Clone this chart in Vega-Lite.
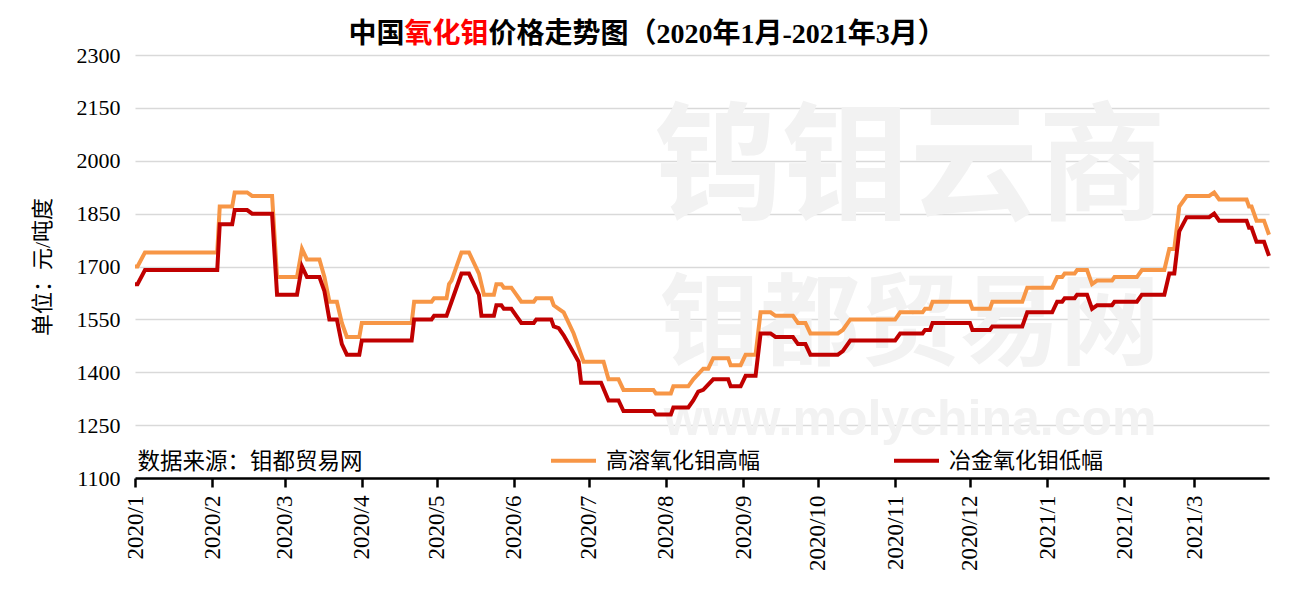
{
  "$schema": "https://vega.github.io/schema/vega-lite/v6.json",
  "width": 1134,
  "height": 423,
  "autosize": {"type": "none"},
  "padding": {"left": 135, "top": 55, "right": 36, "bottom": 118},
  "background": "white",
  "config": {"view": {"stroke": null}, "font": "Liberation Serif, Noto Sans CJK SC"},
  "datasets": {
    "prices": [
      {"date": "2020/01/01", "series": "高溶氧化钼高幅", "price": 1700},
      {"date": "2020/01/02", "series": "高溶氧化钼高幅", "price": 1700},
      {"date": "2020/01/05", "series": "高溶氧化钼高幅", "price": 1740},
      {"date": "2020/02/03", "series": "高溶氧化钼高幅", "price": 1740},
      {"date": "2020/02/04", "series": "高溶氧化钼高幅", "price": 1870},
      {"date": "2020/02/09", "series": "高溶氧化钼高幅", "price": 1870},
      {"date": "2020/02/10", "series": "高溶氧化钼高幅", "price": 1910},
      {"date": "2020/02/15", "series": "高溶氧化钼高幅", "price": 1910},
      {"date": "2020/02/17", "series": "高溶氧化钼高幅", "price": 1900},
      {"date": "2020/02/25", "series": "高溶氧化钼高幅", "price": 1900},
      {"date": "2020/02/27", "series": "高溶氧化钼高幅", "price": 1670},
      {"date": "2020/03/06", "series": "高溶氧化钼高幅", "price": 1670},
      {"date": "2020/03/08", "series": "高溶氧化钼高幅", "price": 1750},
      {"date": "2020/03/10", "series": "高溶氧化钼高幅", "price": 1720},
      {"date": "2020/03/15", "series": "高溶氧化钼高幅", "price": 1720},
      {"date": "2020/03/17", "series": "高溶氧化钼高幅", "price": 1670},
      {"date": "2020/03/19", "series": "高溶氧化钼高幅", "price": 1600},
      {"date": "2020/03/22", "series": "高溶氧化钼高幅", "price": 1600},
      {"date": "2020/03/24", "series": "高溶氧化钼高幅", "price": 1540},
      {"date": "2020/03/26", "series": "高溶氧化钼高幅", "price": 1500},
      {"date": "2020/03/31", "series": "高溶氧化钼高幅", "price": 1500},
      {"date": "2020/04/01", "series": "高溶氧化钼高幅", "price": 1540},
      {"date": "2020/04/21", "series": "高溶氧化钼高幅", "price": 1540},
      {"date": "2020/04/22", "series": "高溶氧化钼高幅", "price": 1600},
      {"date": "2020/04/29", "series": "高溶氧化钼高幅", "price": 1600},
      {"date": "2020/04/30", "series": "高溶氧化钼高幅", "price": 1610},
      {"date": "2020/05/05", "series": "高溶氧化钼高幅", "price": 1610},
      {"date": "2020/05/06", "series": "高溶氧化钼高幅", "price": 1650},
      {"date": "2020/05/07", "series": "高溶氧化钼高幅", "price": 1660},
      {"date": "2020/05/11", "series": "高溶氧化钼高幅", "price": 1740},
      {"date": "2020/05/14", "series": "高溶氧化钼高幅", "price": 1740},
      {"date": "2020/05/18", "series": "高溶氧化钼高幅", "price": 1680},
      {"date": "2020/05/20", "series": "高溶氧化钼高幅", "price": 1620},
      {"date": "2020/05/24", "series": "高溶氧化钼高幅", "price": 1620},
      {"date": "2020/05/25", "series": "高溶氧化钼高幅", "price": 1650},
      {"date": "2020/05/27", "series": "高溶氧化钼高幅", "price": 1650},
      {"date": "2020/05/28", "series": "高溶氧化钼高幅", "price": 1640},
      {"date": "2020/05/31", "series": "高溶氧化钼高幅", "price": 1640},
      {"date": "2020/06/02", "series": "高溶氧化钼高幅", "price": 1620},
      {"date": "2020/06/04", "series": "高溶氧化钼高幅", "price": 1600},
      {"date": "2020/06/09", "series": "高溶氧化钼高幅", "price": 1600},
      {"date": "2020/06/10", "series": "高溶氧化钼高幅", "price": 1610},
      {"date": "2020/06/16", "series": "高溶氧化钼高幅", "price": 1610},
      {"date": "2020/06/17", "series": "高溶氧化钼高幅", "price": 1590},
      {"date": "2020/06/19", "series": "高溶氧化钼高幅", "price": 1580},
      {"date": "2020/06/21", "series": "高溶氧化钼高幅", "price": 1570},
      {"date": "2020/06/23", "series": "高溶氧化钼高幅", "price": 1540},
      {"date": "2020/06/25", "series": "高溶氧化钼高幅", "price": 1510},
      {"date": "2020/06/27", "series": "高溶氧化钼高幅", "price": 1470},
      {"date": "2020/06/29", "series": "高溶氧化钼高幅", "price": 1430},
      {"date": "2020/07/07", "series": "高溶氧化钼高幅", "price": 1430},
      {"date": "2020/07/09", "series": "高溶氧化钼高幅", "price": 1380},
      {"date": "2020/07/13", "series": "高溶氧化钼高幅", "price": 1380},
      {"date": "2020/07/15", "series": "高溶氧化钼高幅", "price": 1350},
      {"date": "2020/07/27", "series": "高溶氧化钼高幅", "price": 1350},
      {"date": "2020/07/28", "series": "高溶氧化钼高幅", "price": 1340},
      {"date": "2020/08/03", "series": "高溶氧化钼高幅", "price": 1340},
      {"date": "2020/08/04", "series": "高溶氧化钼高幅", "price": 1360},
      {"date": "2020/08/10", "series": "高溶氧化钼高幅", "price": 1360},
      {"date": "2020/08/12", "series": "高溶氧化钼高幅", "price": 1380},
      {"date": "2020/08/16", "series": "高溶氧化钼高幅", "price": 1410},
      {"date": "2020/08/18", "series": "高溶氧化钼高幅", "price": 1410},
      {"date": "2020/08/20", "series": "高溶氧化钼高幅", "price": 1440},
      {"date": "2020/08/26", "series": "高溶氧化钼高幅", "price": 1440},
      {"date": "2020/08/27", "series": "高溶氧化钼高幅", "price": 1420},
      {"date": "2020/08/31", "series": "高溶氧化钼高幅", "price": 1420},
      {"date": "2020/09/02", "series": "高溶氧化钼高幅", "price": 1450},
      {"date": "2020/09/06", "series": "高溶氧化钼高幅", "price": 1450},
      {"date": "2020/09/08", "series": "高溶氧化钼高幅", "price": 1570},
      {"date": "2020/09/12", "series": "高溶氧化钼高幅", "price": 1570},
      {"date": "2020/09/14", "series": "高溶氧化钼高幅", "price": 1560},
      {"date": "2020/09/21", "series": "高溶氧化钼高幅", "price": 1560},
      {"date": "2020/09/23", "series": "高溶氧化钼高幅", "price": 1540},
      {"date": "2020/09/26", "series": "高溶氧化钼高幅", "price": 1540},
      {"date": "2020/09/28", "series": "高溶氧化钼高幅", "price": 1510},
      {"date": "2020/10/09", "series": "高溶氧化钼高幅", "price": 1510},
      {"date": "2020/10/11", "series": "高溶氧化钼高幅", "price": 1520},
      {"date": "2020/10/14", "series": "高溶氧化钼高幅", "price": 1550},
      {"date": "2020/11/01", "series": "高溶氧化钼高幅", "price": 1550},
      {"date": "2020/11/03", "series": "高溶氧化钼高幅", "price": 1570},
      {"date": "2020/11/12", "series": "高溶氧化钼高幅", "price": 1570},
      {"date": "2020/11/13", "series": "高溶氧化钼高幅", "price": 1580},
      {"date": "2020/11/15", "series": "高溶氧化钼高幅", "price": 1580},
      {"date": "2020/11/16", "series": "高溶氧化钼高幅", "price": 1600},
      {"date": "2020/12/01", "series": "高溶氧化钼高幅", "price": 1600},
      {"date": "2020/12/02", "series": "高溶氧化钼高幅", "price": 1580},
      {"date": "2020/12/09", "series": "高溶氧化钼高幅", "price": 1580},
      {"date": "2020/12/10", "series": "高溶氧化钼高幅", "price": 1600},
      {"date": "2020/12/22", "series": "高溶氧化钼高幅", "price": 1600},
      {"date": "2020/12/24", "series": "高溶氧化钼高幅", "price": 1640},
      {"date": "2021/01/03", "series": "高溶氧化钼高幅", "price": 1640},
      {"date": "2021/01/05", "series": "高溶氧化钼高幅", "price": 1670},
      {"date": "2021/01/07", "series": "高溶氧化钼高幅", "price": 1670},
      {"date": "2021/01/08", "series": "高溶氧化钼高幅", "price": 1680},
      {"date": "2021/01/12", "series": "高溶氧化钼高幅", "price": 1680},
      {"date": "2021/01/13", "series": "高溶氧化钼高幅", "price": 1690},
      {"date": "2021/01/17", "series": "高溶氧化钼高幅", "price": 1690},
      {"date": "2021/01/19", "series": "高溶氧化钼高幅", "price": 1650},
      {"date": "2021/01/21", "series": "高溶氧化钼高幅", "price": 1660},
      {"date": "2021/01/27", "series": "高溶氧化钼高幅", "price": 1660},
      {"date": "2021/01/28", "series": "高溶氧化钼高幅", "price": 1670},
      {"date": "2021/02/06", "series": "高溶氧化钼高幅", "price": 1670},
      {"date": "2021/02/08", "series": "高溶氧化钼高幅", "price": 1690},
      {"date": "2021/02/17", "series": "高溶氧化钼高幅", "price": 1690},
      {"date": "2021/02/19", "series": "高溶氧化钼高幅", "price": 1750},
      {"date": "2021/02/21", "series": "高溶氧化钼高幅", "price": 1750},
      {"date": "2021/02/23", "series": "高溶氧化钼高幅", "price": 1870},
      {"date": "2021/02/26", "series": "高溶氧化钼高幅", "price": 1900},
      {"date": "2021/03/07", "series": "高溶氧化钼高幅", "price": 1900},
      {"date": "2021/03/09", "series": "高溶氧化钼高幅", "price": 1910},
      {"date": "2021/03/11", "series": "高溶氧化钼高幅", "price": 1890},
      {"date": "2021/03/22", "series": "高溶氧化钼高幅", "price": 1890},
      {"date": "2021/03/23", "series": "高溶氧化钼高幅", "price": 1870},
      {"date": "2021/03/24", "series": "高溶氧化钼高幅", "price": 1870},
      {"date": "2021/03/26", "series": "高溶氧化钼高幅", "price": 1830},
      {"date": "2021/03/29", "series": "高溶氧化钼高幅", "price": 1830},
      {"date": "2021/03/31", "series": "高溶氧化钼高幅", "price": 1790},

      {"date": "2020/01/01", "series": "冶金氧化钼低幅", "price": 1650},
      {"date": "2020/01/02", "series": "冶金氧化钼低幅", "price": 1650},
      {"date": "2020/01/05", "series": "冶金氧化钼低幅", "price": 1690},
      {"date": "2020/02/03", "series": "冶金氧化钼低幅", "price": 1690},
      {"date": "2020/02/04", "series": "冶金氧化钼低幅", "price": 1820},
      {"date": "2020/02/09", "series": "冶金氧化钼低幅", "price": 1820},
      {"date": "2020/02/10", "series": "冶金氧化钼低幅", "price": 1860},
      {"date": "2020/02/15", "series": "冶金氧化钼低幅", "price": 1860},
      {"date": "2020/02/17", "series": "冶金氧化钼低幅", "price": 1850},
      {"date": "2020/02/25", "series": "冶金氧化钼低幅", "price": 1850},
      {"date": "2020/02/27", "series": "冶金氧化钼低幅", "price": 1620},
      {"date": "2020/03/06", "series": "冶金氧化钼低幅", "price": 1620},
      {"date": "2020/03/08", "series": "冶金氧化钼低幅", "price": 1700},
      {"date": "2020/03/10", "series": "冶金氧化钼低幅", "price": 1670},
      {"date": "2020/03/15", "series": "冶金氧化钼低幅", "price": 1670},
      {"date": "2020/03/17", "series": "冶金氧化钼低幅", "price": 1630},
      {"date": "2020/03/19", "series": "冶金氧化钼低幅", "price": 1550},
      {"date": "2020/03/22", "series": "冶金氧化钼低幅", "price": 1550},
      {"date": "2020/03/24", "series": "冶金氧化钼低幅", "price": 1480},
      {"date": "2020/03/26", "series": "冶金氧化钼低幅", "price": 1450},
      {"date": "2020/03/31", "series": "冶金氧化钼低幅", "price": 1450},
      {"date": "2020/04/01", "series": "冶金氧化钼低幅", "price": 1490},
      {"date": "2020/04/21", "series": "冶金氧化钼低幅", "price": 1490},
      {"date": "2020/04/22", "series": "冶金氧化钼低幅", "price": 1550},
      {"date": "2020/04/29", "series": "冶金氧化钼低幅", "price": 1550},
      {"date": "2020/04/30", "series": "冶金氧化钼低幅", "price": 1560},
      {"date": "2020/05/05", "series": "冶金氧化钼低幅", "price": 1560},
      {"date": "2020/05/07", "series": "冶金氧化钼低幅", "price": 1600},
      {"date": "2020/05/11", "series": "冶金氧化钼低幅", "price": 1680},
      {"date": "2020/05/14", "series": "冶金氧化钼低幅", "price": 1680},
      {"date": "2020/05/18", "series": "冶金氧化钼低幅", "price": 1620},
      {"date": "2020/05/19", "series": "冶金氧化钼低幅", "price": 1560},
      {"date": "2020/05/24", "series": "冶金氧化钼低幅", "price": 1560},
      {"date": "2020/05/25", "series": "冶金氧化钼低幅", "price": 1590},
      {"date": "2020/05/27", "series": "冶金氧化钼低幅", "price": 1590},
      {"date": "2020/05/28", "series": "冶金氧化钼低幅", "price": 1580},
      {"date": "2020/05/31", "series": "冶金氧化钼低幅", "price": 1580},
      {"date": "2020/06/02", "series": "冶金氧化钼低幅", "price": 1560},
      {"date": "2020/06/04", "series": "冶金氧化钼低幅", "price": 1540},
      {"date": "2020/06/09", "series": "冶金氧化钼低幅", "price": 1540},
      {"date": "2020/06/10", "series": "冶金氧化钼低幅", "price": 1550},
      {"date": "2020/06/16", "series": "冶金氧化钼低幅", "price": 1550},
      {"date": "2020/06/17", "series": "冶金氧化钼低幅", "price": 1530},
      {"date": "2020/06/19", "series": "冶金氧化钼低幅", "price": 1525},
      {"date": "2020/06/21", "series": "冶金氧化钼低幅", "price": 1505},
      {"date": "2020/06/23", "series": "冶金氧化钼低幅", "price": 1480},
      {"date": "2020/06/25", "series": "冶金氧化钼低幅", "price": 1455},
      {"date": "2020/06/27", "series": "冶金氧化钼低幅", "price": 1430},
      {"date": "2020/06/28", "series": "冶金氧化钼低幅", "price": 1370},
      {"date": "2020/07/06", "series": "冶金氧化钼低幅", "price": 1370},
      {"date": "2020/07/09", "series": "冶金氧化钼低幅", "price": 1320},
      {"date": "2020/07/13", "series": "冶金氧化钼低幅", "price": 1320},
      {"date": "2020/07/15", "series": "冶金氧化钼低幅", "price": 1290},
      {"date": "2020/07/27", "series": "冶金氧化钼低幅", "price": 1290},
      {"date": "2020/07/28", "series": "冶金氧化钼低幅", "price": 1280},
      {"date": "2020/08/03", "series": "冶金氧化钼低幅", "price": 1280},
      {"date": "2020/08/04", "series": "冶金氧化钼低幅", "price": 1300},
      {"date": "2020/08/10", "series": "冶金氧化钼低幅", "price": 1300},
      {"date": "2020/08/12", "series": "冶金氧化钼低幅", "price": 1320},
      {"date": "2020/08/14", "series": "冶金氧化钼低幅", "price": 1345},
      {"date": "2020/08/16", "series": "冶金氧化钼低幅", "price": 1350},
      {"date": "2020/08/20", "series": "冶金氧化钼低幅", "price": 1380},
      {"date": "2020/08/26", "series": "冶金氧化钼低幅", "price": 1380},
      {"date": "2020/08/27", "series": "冶金氧化钼低幅", "price": 1360},
      {"date": "2020/08/31", "series": "冶金氧化钼低幅", "price": 1360},
      {"date": "2020/09/02", "series": "冶金氧化钼低幅", "price": 1390},
      {"date": "2020/09/06", "series": "冶金氧化钼低幅", "price": 1390},
      {"date": "2020/09/08", "series": "冶金氧化钼低幅", "price": 1510},
      {"date": "2020/09/12", "series": "冶金氧化钼低幅", "price": 1510},
      {"date": "2020/09/14", "series": "冶金氧化钼低幅", "price": 1500},
      {"date": "2020/09/21", "series": "冶金氧化钼低幅", "price": 1500},
      {"date": "2020/09/23", "series": "冶金氧化钼低幅", "price": 1480},
      {"date": "2020/09/26", "series": "冶金氧化钼低幅", "price": 1480},
      {"date": "2020/09/28", "series": "冶金氧化钼低幅", "price": 1450},
      {"date": "2020/10/09", "series": "冶金氧化钼低幅", "price": 1450},
      {"date": "2020/10/11", "series": "冶金氧化钼低幅", "price": 1460},
      {"date": "2020/10/14", "series": "冶金氧化钼低幅", "price": 1490},
      {"date": "2020/11/01", "series": "冶金氧化钼低幅", "price": 1490},
      {"date": "2020/11/03", "series": "冶金氧化钼低幅", "price": 1510},
      {"date": "2020/11/12", "series": "冶金氧化钼低幅", "price": 1510},
      {"date": "2020/11/13", "series": "冶金氧化钼低幅", "price": 1520},
      {"date": "2020/11/15", "series": "冶金氧化钼低幅", "price": 1520},
      {"date": "2020/11/16", "series": "冶金氧化钼低幅", "price": 1540},
      {"date": "2020/12/01", "series": "冶金氧化钼低幅", "price": 1540},
      {"date": "2020/12/02", "series": "冶金氧化钼低幅", "price": 1520},
      {"date": "2020/12/09", "series": "冶金氧化钼低幅", "price": 1520},
      {"date": "2020/12/10", "series": "冶金氧化钼低幅", "price": 1530},
      {"date": "2020/12/22", "series": "冶金氧化钼低幅", "price": 1530},
      {"date": "2020/12/24", "series": "冶金氧化钼低幅", "price": 1570},
      {"date": "2021/01/03", "series": "冶金氧化钼低幅", "price": 1570},
      {"date": "2021/01/05", "series": "冶金氧化钼低幅", "price": 1600},
      {"date": "2021/01/07", "series": "冶金氧化钼低幅", "price": 1600},
      {"date": "2021/01/08", "series": "冶金氧化钼低幅", "price": 1610},
      {"date": "2021/01/12", "series": "冶金氧化钼低幅", "price": 1610},
      {"date": "2021/01/13", "series": "冶金氧化钼低幅", "price": 1620},
      {"date": "2021/01/17", "series": "冶金氧化钼低幅", "price": 1620},
      {"date": "2021/01/19", "series": "冶金氧化钼低幅", "price": 1580},
      {"date": "2021/01/21", "series": "冶金氧化钼低幅", "price": 1590},
      {"date": "2021/01/27", "series": "冶金氧化钼低幅", "price": 1590},
      {"date": "2021/01/28", "series": "冶金氧化钼低幅", "price": 1600},
      {"date": "2021/02/06", "series": "冶金氧化钼低幅", "price": 1600},
      {"date": "2021/02/08", "series": "冶金氧化钼低幅", "price": 1620},
      {"date": "2021/02/17", "series": "冶金氧化钼低幅", "price": 1620},
      {"date": "2021/02/19", "series": "冶金氧化钼低幅", "price": 1680},
      {"date": "2021/02/21", "series": "冶金氧化钼低幅", "price": 1680},
      {"date": "2021/02/23", "series": "冶金氧化钼低幅", "price": 1800},
      {"date": "2021/02/26", "series": "冶金氧化钼低幅", "price": 1840},
      {"date": "2021/03/07", "series": "冶金氧化钼低幅", "price": 1840},
      {"date": "2021/03/09", "series": "冶金氧化钼低幅", "price": 1850},
      {"date": "2021/03/11", "series": "冶金氧化钼低幅", "price": 1830},
      {"date": "2021/03/22", "series": "冶金氧化钼低幅", "price": 1830},
      {"date": "2021/03/23", "series": "冶金氧化钼低幅", "price": 1810},
      {"date": "2021/03/24", "series": "冶金氧化钼低幅", "price": 1810},
      {"date": "2021/03/26", "series": "冶金氧化钼低幅", "price": 1770},
      {"date": "2021/03/29", "series": "冶金氧化钼低幅", "price": 1770},
      {"date": "2021/03/31", "series": "冶金氧化钼低幅", "price": 1730}
    ]
  },
  "layer": [
    {
      "data": {"values": [{}]},
      "mark": {"type": "text", "text": "钨钼云商", "font": "Noto Sans CJK SC", "fontWeight": "bold", "fontSize": 128, "color": "#f2f2f2", "align": "center", "baseline": "middle"},
      "encoding": {
        "x": {"datum": {"year": 2020, "month": 11, "date": 7}, "type": "temporal"},
        "y": {"datum": 1968, "type": "quantitative"}
      }
    },
    {
      "data": {"values": [{}]},
      "mark": {"type": "text", "text": "钼都贸易网", "font": "Noto Sans CJK SC", "fontWeight": "bold", "fontSize": 100, "color": "#f2f2f2", "align": "center", "baseline": "middle"},
      "encoding": {
        "x": {"datum": {"year": 2020, "month": 11, "date": 7}, "type": "temporal"},
        "y": {"datum": 1528, "type": "quantitative"}
      }
    },
    {
      "data": {"values": [{}]},
      "mark": {"type": "text", "text": "www.molychina.com", "font": "Liberation Sans", "fontWeight": "bold", "fontSize": 50, "color": "#f2f2f2", "align": "center", "baseline": "middle"},
      "encoding": {
        "x": {"datum": {"year": 2020, "month": 11, "date": 7}, "type": "temporal"},
        "y": {"datum": 1265, "type": "quantitative"}
      }
    },
    {
      "data": {"name": "prices"},
      "mark": {"type": "line", "strokeWidth": 4, "interpolate": "linear"},
      "encoding": {
        "x": {
          "field": "date", "type": "temporal",
          "scale": {"domain": [{"year": 2020, "month": 1, "date": 1}, {"year": 2021, "month": 3, "date": 31}]},
          "axis": {
            "title": null, "format": "%Y/%-m", "tickCount": {"interval": "month", "step": 1},
            "grid": false, "domainColor": "#000", "domainWidth": 2.5,
            "tickColor": "#000", "tickWidth": 2.5, "tickSize": 9,
            "labelAngle": 270, "labelFont": "Liberation Serif", "labelFontSize": 23, "labelColor": "#000",
            "labelPadding": 8, "labelFlush": false, "labelOverlap": false, "labelBound": false
          }
        },
        "y": {
          "field": "price", "type": "quantitative",
          "scale": {"domain": [1100, 2300], "nice": false, "zero": false},
          "axis": {
            "title": "单位：元/吨度", "format": "d", "values": [1100, 1250, 1400, 1550, 1700, 1850, 2000, 2150, 2300],
            "ticks": false, "tickSize": 0, "domain": false,
            "grid": true, "gridColor": "#d9d9d9", "gridWidth": 1.5,
            "labelFont": "Liberation Serif", "labelFontSize": 22, "labelColor": "#000", "labelPadding": 15,
            "titleFont": "Liberation Serif, Noto Sans CJK SC", "titleFontSize": 22, "titleFontWeight": "normal",
            "titleColor": "#000", "titlePadding": 22
          }
        },
        "color": {
          "field": "series", "type": "nominal",
          "scale": {"domain": ["高溶氧化钼高幅", "冶金氧化钼低幅"], "range": ["#F79646", "#C00000"]},
          "legend": {
            "title": null, "orient": "none", "legendX": 414, "legendY": 381, "direction": "horizontal",
            "symbolType": "stroke", "symbolSize": 2025, "symbolStrokeWidth": 4,
            "labelFont": "Liberation Serif, Noto Sans CJK SC", "labelFontSize": 22, "labelColor": "#000",
            "labelOffset": 8, "columnPadding": 125, "labelLimit": 300, "padding": 0
          }
        }
      }
    },
    {
      "data": {"values": [{}]},
      "mark": {"type": "text", "text": "中国", "font": "Liberation Serif, Noto Sans CJK SC", "fontWeight": "bold", "fontSize": 28, "color": "#000", "align": "right", "baseline": "middle", "dx": -42},
      "encoding": {
        "x": {"datum": {"year": 2020, "month": 5, "date": 5}, "type": "temporal"},
        "y": {"datum": 2357, "type": "quantitative"}
      }
    },
    {
      "data": {"values": [{}]},
      "mark": {"type": "text", "text": "氧化钼", "font": "Liberation Serif, Noto Sans CJK SC", "fontWeight": "bold", "fontSize": 28, "color": "#FF0000", "align": "center", "baseline": "middle"},
      "encoding": {
        "x": {"datum": {"year": 2020, "month": 5, "date": 5}, "type": "temporal"},
        "y": {"datum": 2357, "type": "quantitative"}
      }
    },
    {
      "data": {"values": [{}]},
      "mark": {"type": "text", "text": "价格走势图（2020年1月-2021年3月）", "font": "Liberation Serif, Noto Sans CJK SC", "fontWeight": "bold", "fontSize": 28, "color": "#000", "align": "left", "baseline": "middle", "dx": 42},
      "encoding": {
        "x": {"datum": {"year": 2020, "month": 5, "date": 5}, "type": "temporal"},
        "y": {"datum": 2357, "type": "quantitative"}
      }
    },
    {
      "data": {"values": [{}]},
      "mark": {"type": "text", "text": "数据来源：钼都贸易网", "font": "Liberation Serif, Noto Sans CJK SC", "fontSize": 22.5, "color": "#000", "align": "left", "baseline": "middle"},
      "encoding": {
        "x": {"datum": {"year": 2020, "month": 1, "date": 2}, "type": "temporal"},
        "y": {"datum": 1145, "type": "quantitative"}
      }
    }
  ]
}
